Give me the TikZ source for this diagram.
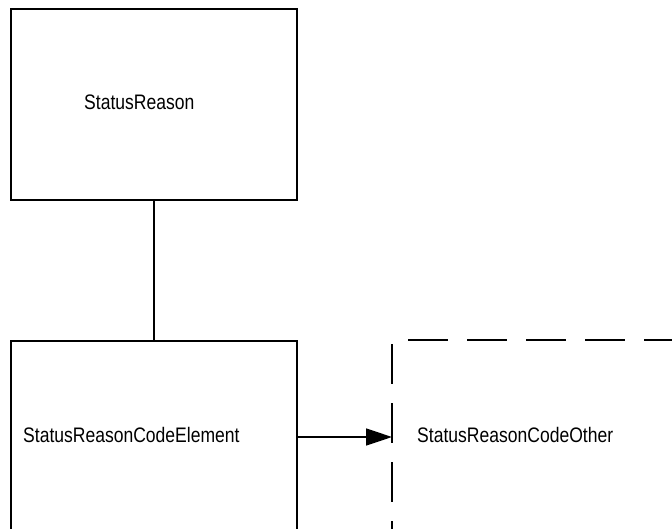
\documentclass[tikz,border=0pt]{standalone}
\usepackage{fontspec}
\newfontfamily\diafont[FakeStretch=0.835]{Liberation Sans}
\usetikzlibrary{arrows.meta}
\begin{document}
\begin{tikzpicture}[x=1pt,y=-1pt,
  box/.style={draw, line width=1.7pt, rectangle, inner sep=0pt, anchor=north west},
  ghost/.style={draw=none, rectangle, inner sep=0pt, anchor=north west},
  lbl/.style={anchor=base west, inner sep=0pt, font=\diafont\fontsize{21}{25}\selectfont},
  conn/.style={line width=1.7pt},
  dashpat/.style={line width=1.7pt, dash pattern=on 40pt off 19pt}]
\useasboundingbox (0,0) rectangle (672,528);
\clip (0,0) rectangle (672,528);
\node[box, minimum width=286pt, minimum height=191pt] (sr) at (10,8) {};
\node[box, minimum width=286pt, minimum height=200pt] (sre) at (10,340) {};
\node[ghost, minimum width=310pt, minimum height=200pt] (sro) at (392,340) {};
\draw[dashpat, dash phase=55pt] (sro.north west) -- (sro.south west);
\draw[dashpat, dash phase=43pt] (sro.north west) -- (sro.north east);
\node[lbl] (t1) at (84,109) {StatusReason};
\node[lbl] (t2) at (23,442) {StatusReasonCodeElement};
\node[lbl] (t3) at (417,442) {StatusReasonCodeOther};
\draw[conn] (sr.south) -- (sre.north);
\draw[conn, -{Triangle[length=26pt, width=17pt]}] (sre.east |- 0,437) -- (sro.west |- 0,437);
\end{tikzpicture}
\end{document}
